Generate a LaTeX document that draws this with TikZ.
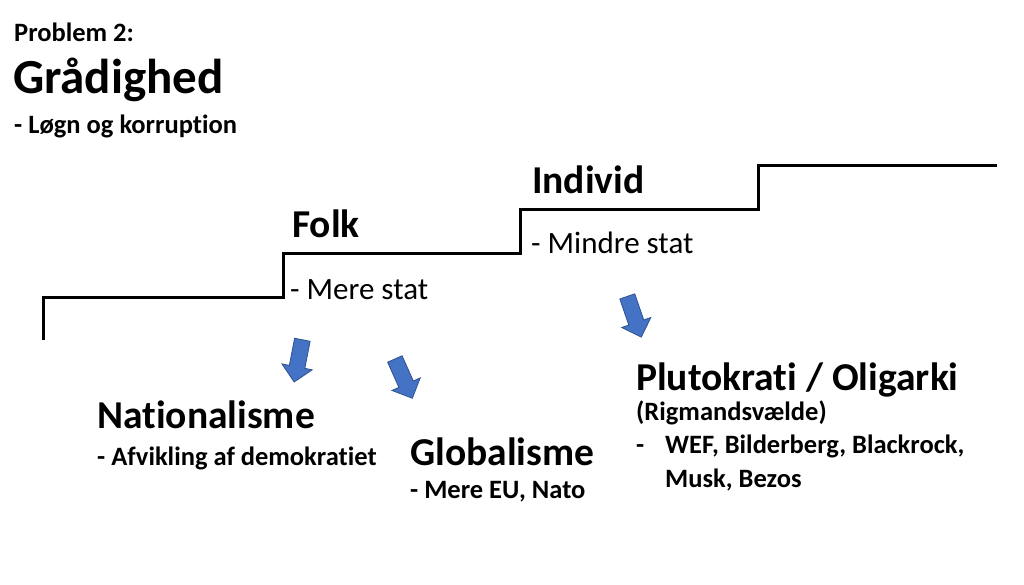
\documentclass[tikz,border=0pt]{standalone}
\usepackage{fontspec}
\setmainfont{Carlito}[Ligatures=NoCommon]
\usetikzlibrary{shapes.arrows}
\definecolor{pilblaa}{HTML}{4472C4}
\definecolor{pilkant}{HTML}{2F528F}
\begin{document}
\begin{tikzpicture}[x=1pt,y=-1pt,
        tekst/.style={anchor=base west,inner sep=0pt,font=\bfseries},
        lille/.style={tekst,font=\bfseries\fontsize{26.5}{30}\selectfont},
        stor/.style={tekst,font=\bfseries\fontsize{39.5}{44}\selectfont},
        normal/.style={tekst,font=\fontsize{31}{35}\selectfont},
        pil/.style={single arrow,draw=pilkant,fill=pilblaa,line width=0.8pt,
            minimum height=43pt,inner xsep=0pt,inner ysep=7.5pt,single arrow head extend=7.5pt}]
        \useasboundingbox[fill=white] (0,0) rectangle (1024,584);

        % overskrift
        \node[lille] (problem) at (14,41) {Problem 2:};
        \node[tekst,font=\bfseries\fontsize{49}{54}\selectfont] (titel) at (13,93) {Grådighed};
        \node[lille] (undertitel) at (14,133) {- Løgn og korruption};

        % trappen
        \draw[line width=3pt] (43,340) -- (43,297) -- (283,297) -- (283,253) -- (520,253)
            -- (520,209) -- (758,209) -- (758,165) -- (997,165);

        \node[stor] (folk) at (292,237) {Folk};
        \node[normal] (merestat) at (290,299) {- Mere stat};
        \node[stor] (individ) at (532,193) {Individ};
        \node[normal] (mindrestat) at (531,253) {- Mindre stat};

        % pile
        \node[pil,rotate=-101] (pil1) at (299,357) {};
        \node[pil,rotate=-66] (pil2) at (402,375) {};
        \node[pil,rotate=-71] (pil3) at (633,313) {};

        % nationalisme
        \node[stor] (national) at (97,428) {Nationalisme};
        \node[lille] (afvikling) at (97,465) {- Afvikling af demokratiet};

        % globalisme
        \node[stor] (global) at (410,465) {Globalisme};
        \node[lille] (eunato) at (410,498) {- Mere EU, Nato};

        % plutokrati
        \node[stor] (pluto) at (636,390) {Plutokrati / Oligarki};
        \node[lille] (rigmand) at (636,420) {(Rigmandsvælde)};
        \node[lille] (streg) at (636,453) {-};
        \node[lille] (wef) at (665,453) {WEF, Bilderberg, Blackrock,};
        \node[lille] (musk) at (665,487) {Musk, Bezos};
\end{tikzpicture}
\end{document}
